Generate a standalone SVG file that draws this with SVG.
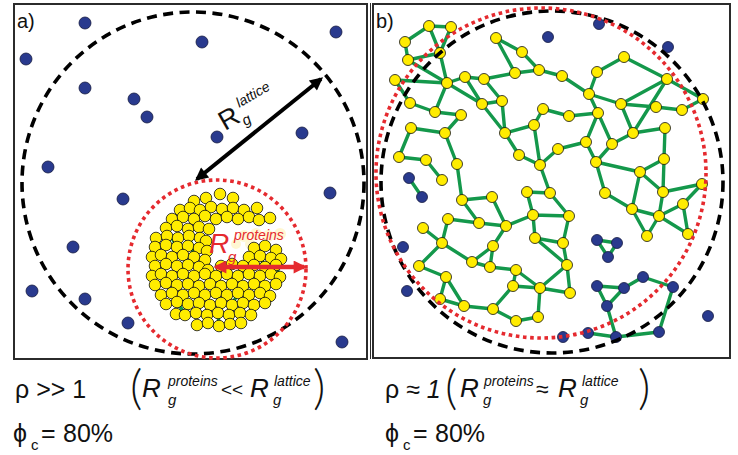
<svg xmlns="http://www.w3.org/2000/svg" width="738" height="455" viewBox="0 0 738 455">
<style>
.frame{fill:none;stroke:#2b2b2b;stroke-width:2}
.y{fill:#ffec00;stroke:#111;stroke-width:0.8}
.b{fill:#293a8e;stroke:#151a40;stroke-width:0.8}
.e{stroke:#14984b;stroke-width:3.4;stroke-linecap:round;fill:none}
.dash{fill:none;stroke:#000;stroke-width:3.6;stroke-dasharray:10 6.5}
.dot{fill:none;stroke:#e52a2f;stroke-width:3.6;stroke-dasharray:3.6 3.6}
.t{font-family:'Liberation Sans',Arial,sans-serif;fill:#111}
.i{font-style:italic}
.p{font-family:Lato,'Open Sans','Liberation Sans',sans-serif;font-weight:300;fill:#111}
.r{fill:#e52a2f}
</style>
<defs>
<marker id="ak" viewBox="0 0 10 10" refX="8" refY="5" markerWidth="15" markerHeight="13" markerUnits="userSpaceOnUse" orient="auto-start-reverse"><path d="M0,0 L10,5 L0,10 z" fill="#000"/></marker>
<marker id="ar" viewBox="0 0 10 10" refX="8" refY="5" markerWidth="14" markerHeight="13" markerUnits="userSpaceOnUse" orient="auto-start-reverse"><path d="M0,0 L10,5 L0,10 z" fill="#e52a2f"/></marker>
</defs>
<rect width="738" height="455" fill="#fff"/>

<!-- Panel a -->
<g id="panel-a">
<rect class="frame" x="14" y="4" width="353" height="355"/>
<text class="t" x="17" y="28" font-size="20">a)</text>
<g id="a-lattice-free">
<circle class="b" cx="85" cy="23" r="6"/>
<circle class="b" cx="202" cy="42" r="6"/>
<circle class="b" cx="336" cy="32" r="6"/>
<circle class="b" cx="26" cy="59" r="6"/>
<circle class="b" cx="85" cy="88" r="6"/>
<circle class="b" cx="134" cy="99" r="6"/>
<circle class="b" cx="147" cy="117" r="6"/>
<circle class="b" cx="217" cy="137" r="6"/>
<circle class="b" cx="302" cy="133" r="6"/>
<circle class="b" cx="48" cy="167" r="6"/>
<circle class="b" cx="330" cy="193" r="6"/>
<circle class="b" cx="123" cy="199" r="6"/>
<circle class="b" cx="73" cy="247" r="6"/>
<circle class="b" cx="32" cy="291" r="6"/>
<circle class="b" cx="85" cy="299" r="6"/>
<circle class="b" cx="128" cy="323" r="6"/>
<circle class="b" cx="342" cy="342" r="6"/>
</g>
<circle id="a-lattice-ring" class="dash" cx="193" cy="183" r="171"/>
<circle id="a-protein-ring" class="dot" cx="217" cy="269" r="89"/>
<g id="a-cluster-bonds">
<path class="e" d="M166,228L177,247 M177,247L188,246 M188,229L194,257 M161,255L166,264 M172,276L183,274 M155,285L166,283 M183,295L188,304 M199,286L205,295 M216,293L221,303 M232,305L238,293 M249,295L254,305 M265,286L270,296 M221,286L232,284 M243,266L249,274 M260,256L265,267 M194,219L200,210 M216,219L222,209 M238,219L244,210 M177,302L185,314 M207,314L210,305 M229,314L232,305 M219,326L218,312 M161,295L166,304 M152,257L155,266 M276,265L280,277 M183,255L188,265 M199,267L205,274"/>
</g>
<g id="a-cluster-ghost" fill="#fff6c8" opacity="0.8">
<circle cx="244" cy="236" r="6"/><circle cx="256" cy="234" r="6"/><circle cx="268" cy="236" r="6"/><circle cx="280" cy="234" r="6"/><circle cx="250" cy="244" r="5"/><circle cx="236" cy="244" r="5"/>
</g>
<g id="a-cluster">
<circle class="y" cx="194" cy="201" r="5.8"/><circle class="y" cx="206" cy="198" r="5.8"/><circle class="y" cx="220" cy="194" r="5.8"/><circle class="y" cx="233" cy="198" r="5.8"/>
<circle class="y" cx="180" cy="210" r="5.8"/><circle class="y" cx="190" cy="208" r="5.8"/><circle class="y" cx="200" cy="210" r="5.8"/><circle class="y" cx="211" cy="207" r="5.8"/><circle class="y" cx="222" cy="209" r="5.8"/><circle class="y" cx="233" cy="208" r="5.8"/><circle class="y" cx="244" cy="210" r="5.8"/><circle class="y" cx="257" cy="208" r="5.8"/>
<circle class="y" cx="172" cy="219" r="5.8"/><circle class="y" cx="183" cy="217" r="5.8"/><circle class="y" cx="194" cy="219" r="5.8"/><circle class="y" cx="205" cy="216" r="5.8"/><circle class="y" cx="216" cy="219" r="5.8"/><circle class="y" cx="227" cy="217" r="5.8"/><circle class="y" cx="238" cy="219" r="5.8"/><circle class="y" cx="249" cy="217" r="5.8"/><circle class="y" cx="259" cy="220" r="5.8"/><circle class="y" cx="270" cy="218" r="5.8"/>
<circle class="y" cx="166" cy="228" r="5.8"/><circle class="y" cx="177" cy="226" r="5.8"/><circle class="y" cx="188" cy="229" r="5.8"/><circle class="y" cx="199" cy="227" r="5.8"/><circle class="y" cx="209" cy="229" r="5.8"/>
<circle class="y" cx="156" cy="238" r="5.8"/><circle class="y" cx="167" cy="236" r="5.8"/><circle class="y" cx="178" cy="238" r="5.8"/><circle class="y" cx="189" cy="236" r="5.8"/><circle class="y" cx="200" cy="238" r="5.8"/><circle class="y" cx="206" cy="241" r="5.8"/>
<circle class="y" cx="155" cy="247" r="5.8"/><circle class="y" cx="166" cy="245" r="5.8"/><circle class="y" cx="177" cy="247" r="5.8"/><circle class="y" cx="188" cy="246" r="5.8"/><circle class="y" cx="199" cy="248" r="5.8"/><circle class="y" cx="207" cy="251" r="5.8"/>
<circle class="y" cx="254" cy="248" r="5.8"/><circle class="y" cx="265" cy="246" r="5.8"/><circle class="y" cx="276" cy="250" r="5.8"/>
<circle class="y" cx="152" cy="257" r="5.8"/><circle class="y" cx="161" cy="255" r="5.8"/><circle class="y" cx="172" cy="257" r="5.8"/><circle class="y" cx="183" cy="255" r="5.8"/><circle class="y" cx="194" cy="257" r="5.8"/><circle class="y" cx="205" cy="260" r="5.8"/>
<circle class="y" cx="249" cy="257" r="5.8"/><circle class="y" cx="260" cy="256" r="5.8"/><circle class="y" cx="271" cy="258" r="5.8"/><circle class="y" cx="281" cy="259" r="5.8"/>
<circle class="y" cx="155" cy="266" r="5.8"/><circle class="y" cx="166" cy="264" r="5.8"/><circle class="y" cx="177" cy="266" r="5.8"/><circle class="y" cx="188" cy="265" r="5.8"/><circle class="y" cx="199" cy="267" r="5.8"/><circle class="y" cx="208" cy="270" r="5.8"/><circle class="y" cx="221" cy="266" r="5.8"/><circle class="y" cx="232" cy="264" r="5.8"/><circle class="y" cx="243" cy="266" r="5.8"/><circle class="y" cx="254" cy="265" r="5.8"/><circle class="y" cx="265" cy="267" r="5.8"/><circle class="y" cx="276" cy="265" r="5.8"/>
<circle class="y" cx="152" cy="276" r="5.8"/><circle class="y" cx="161" cy="274" r="5.8"/><circle class="y" cx="172" cy="276" r="5.8"/><circle class="y" cx="183" cy="274" r="5.8"/><circle class="y" cx="194" cy="276" r="5.8"/><circle class="y" cx="205" cy="274" r="5.8"/><circle class="y" cx="216" cy="276" r="5.8"/><circle class="y" cx="227" cy="274" r="5.8"/><circle class="y" cx="238" cy="276" r="5.8"/><circle class="y" cx="249" cy="274" r="5.8"/><circle class="y" cx="260" cy="276" r="5.8"/><circle class="y" cx="271" cy="274" r="5.8"/><circle class="y" cx="280" cy="277" r="5.8"/>
<circle class="y" cx="155" cy="285" r="5.8"/><circle class="y" cx="166" cy="283" r="5.8"/><circle class="y" cx="177" cy="285" r="5.8"/><circle class="y" cx="188" cy="284" r="5.8"/><circle class="y" cx="199" cy="286" r="5.8"/><circle class="y" cx="210" cy="284" r="5.8"/><circle class="y" cx="221" cy="286" r="5.8"/><circle class="y" cx="232" cy="284" r="5.8"/><circle class="y" cx="243" cy="286" r="5.8"/><circle class="y" cx="254" cy="284" r="5.8"/><circle class="y" cx="265" cy="286" r="5.8"/><circle class="y" cx="276" cy="284" r="5.8"/>
<circle class="y" cx="161" cy="295" r="5.8"/><circle class="y" cx="172" cy="293" r="5.8"/><circle class="y" cx="183" cy="295" r="5.8"/><circle class="y" cx="194" cy="293" r="5.8"/><circle class="y" cx="205" cy="295" r="5.8"/><circle class="y" cx="216" cy="293" r="5.8"/><circle class="y" cx="227" cy="295" r="5.8"/><circle class="y" cx="238" cy="293" r="5.8"/><circle class="y" cx="249" cy="295" r="5.8"/><circle class="y" cx="260" cy="293" r="5.8"/><circle class="y" cx="270" cy="296" r="5.8"/>
<circle class="y" cx="166" cy="304" r="5.8"/><circle class="y" cx="177" cy="302" r="5.8"/><circle class="y" cx="188" cy="304" r="5.8"/><circle class="y" cx="199" cy="303" r="5.8"/><circle class="y" cx="210" cy="305" r="5.8"/><circle class="y" cx="221" cy="303" r="5.8"/><circle class="y" cx="232" cy="305" r="5.8"/><circle class="y" cx="243" cy="303" r="5.8"/><circle class="y" cx="254" cy="305" r="5.8"/><circle class="y" cx="265" cy="303" r="5.8"/>
<circle class="y" cx="176" cy="314" r="5.8"/><circle class="y" cx="185" cy="315" r="5.8"/><circle class="y" cx="196" cy="313" r="5.8"/><circle class="y" cx="207" cy="315" r="5.8"/><circle class="y" cx="218" cy="313" r="5.8"/><circle class="y" cx="229" cy="315" r="5.8"/><circle class="y" cx="240" cy="313" r="5.8"/><circle class="y" cx="251" cy="315" r="5.8"/>
<circle class="y" cx="197" cy="325" r="5.8"/><circle class="y" cx="208" cy="323" r="5.8"/><circle class="y" cx="219" cy="326" r="5.8"/><circle class="y" cx="230" cy="324" r="5.8"/><circle class="y" cx="241" cy="323" r="5.8"/>
</g>
<g id="a-arrows">
<line x1="197" y1="179" x2="321" y2="79" stroke="#000" stroke-width="4" marker-start="url(#ak)" marker-end="url(#ak)"/>
<line x1="216" y1="267" x2="304" y2="267" stroke="#e52a2f" stroke-width="4.5" marker-start="url(#ar)" marker-end="url(#ar)"/>
</g>
<g id="a-label-lattice" transform="translate(225,131) rotate(-30)">
<text class="t" x="0" y="0" font-size="27">R</text>
<text class="t i" x="20" y="6" font-size="15">g</text>
<text class="t i" x="24" y="-13" font-size="14">lattice</text>
</g>
<g id="a-label-proteins">
<text class="t i r" x="209" y="253" font-size="28">R</text>
<text class="t i r" x="228" y="262" font-size="15">g</text>
<text class="t i r" x="234" y="240" font-size="14">proteins</text>
</g>
</g>

<!-- Panel b -->
<g id="panel-b">
<rect class="frame" x="373" y="4" width="357" height="354"/>
<line x1="370.5" y1="3" x2="370.5" y2="359" stroke="#2b2b2b" stroke-width="1"/>
<text class="t" x="376" y="28" font-size="20">b)</text>
<g id="b-connectors">
<path class="e" d="M429,26L451,27 M429,26L405,42 M405,42L408,60 M451,27L440,53 M429,26L440,53 M408,60L440,53 M440,53L447,83 M408,60L447,83 M395,80L447,83 M395,80L410,103 M410,103L435,112 M435,112L447,83 M447,83L465,77 M465,77L484,79 M484,79L515,73 M447,83L482,104 M465,77L482,104 M435,112L461,115 M461,115L445,133 M482,104L502,101 M484,79L502,101 M482,104L505,133 M502,101L505,133 M505,133L534,125 M505,133L519,155 M534,125L540,165 M519,155L540,165 M496,38L522,52 M496,38L515,73 M522,52L539,70 M515,73L539,70 M539,70L562,76 M411,128L445,133 M411,128L399,157 M399,157L426,160 M426,160L442,180 M445,133L457,164 M457,164L462,200 M543,109L534,125 M543,109L569,116 M569,116L598,113 M562,76L589,94 M597,72L589,94 M597,72L624,57 M624,57L667,79 M667,79L703,99 M589,94L598,113 M589,94L621,104 M598,113L586,142 M598,113L612,144 M621,104L656,107 M656,107L682,110 M682,110L703,99 M667,79L621,104 M667,79L633,133 M621,104L633,133 M633,133L665,128 M612,144L633,133 M586,142L558,149 M586,142L596,162 M612,144L596,162 M596,162L640,172 M665,128L664,159 M640,172L664,159 M558,149L540,165 M596,162L605,193 M540,165L550,193 M527,192L550,193 M527,192L533,215 M550,193L569,216 M533,215L569,216 M533,215L535,238 M569,216L563,243 M535,238L563,243 M535,238L567,265 M563,243L567,265 M567,265L570,293 M567,265L540,288 M540,288L570,293 M540,288L538,317 M540,288L513,286 M513,286L516,270 M490,267L516,270 M516,270L540,288 M516,321L538,317 M493,309L513,286 M493,309L464,306 M493,309L516,321 M464,306L440,299 M464,306L446,277 M446,277L440,299 M446,277L419,266 M419,266L442,243 M423,228L442,243 M442,243L448,219 M442,243L472,262 M472,262L490,267 M472,262L493,246 M493,246L490,267 M493,246L506,226 M479,223L506,226 M448,219L479,223 M462,200L479,223 M462,200L492,197 M492,197L506,226 M506,226L533,215 M640,172L632,209 M640,172L663,192 M664,159L663,192 M663,192L702,184 M663,192L659,216 M632,209L659,216 M632,209L647,236 M659,216L647,236 M659,216L683,204 M683,204L702,184 M683,204L688,234 M659,216L688,234 M605,193L632,209"/>
<path class="e" d="M409,178L422,197 M597,240L617,243 M617,243L608,257 M597,240L608,257 M597,286L624,288 M624,288L643,277 M643,277L673,287 M597,286L607,306 M624,288L607,306 M607,306L616,337 M616,337L659,332 M659,332L673,287 M588,333L616,337"/>
</g>
<g id="b-nodes-lattice">
<circle class="b" cx="548" cy="37" r="5.5"/><circle class="b" cx="599" cy="24" r="5.5"/><circle class="b" cx="668" cy="47" r="5.5"/>
<circle class="b" cx="409" cy="178" r="5.5"/><circle class="b" cx="422" cy="197" r="5.5"/><circle class="b" cx="403" cy="247" r="5.5"/><circle class="b" cx="407" cy="291" r="5.5"/>
<circle class="b" cx="597" cy="240" r="5.5"/><circle class="b" cx="617" cy="243" r="5.5"/><circle class="b" cx="608" cy="257" r="5.5"/>
<circle class="b" cx="597" cy="286" r="5.5"/><circle class="b" cx="624" cy="288" r="5.5"/><circle class="b" cx="643" cy="277" r="5.5"/><circle class="b" cx="673" cy="287" r="5.5"/><circle class="b" cx="607" cy="306" r="5.5"/>
<circle class="b" cx="708" cy="316" r="5.5"/><circle class="b" cx="563" cy="337" r="5.5"/><circle class="b" cx="588" cy="333" r="5.5"/><circle class="b" cx="616" cy="337" r="5.5"/><circle class="b" cx="659" cy="332" r="5.5"/>
</g>
<g id="b-nodes-proteins">
<circle class="y" cx="429" cy="26" r="5.5"/><circle class="y" cx="451" cy="27" r="5.5"/><circle class="y" cx="405" cy="42" r="5.5"/><circle class="y" cx="440" cy="53" r="5.5"/><circle class="y" cx="408" cy="60" r="5.5"/><circle class="y" cx="496" cy="38" r="5.5"/><circle class="y" cx="522" cy="52" r="5.5"/><circle class="y" cx="515" cy="73" r="5.5"/><circle class="y" cx="539" cy="70" r="5.5"/><circle class="y" cx="562" cy="76" r="5.5"/>
<circle class="y" cx="597" cy="72" r="5.5"/><circle class="y" cx="624" cy="57" r="5.5"/><circle class="y" cx="667" cy="79" r="5.5"/><circle class="y" cx="703" cy="99" r="5.5"/><circle class="y" cx="395" cy="80" r="5.5"/><circle class="y" cx="447" cy="83" r="5.5"/><circle class="y" cx="465" cy="77" r="5.5"/><circle class="y" cx="484" cy="79" r="5.5"/><circle class="y" cx="410" cy="103" r="5.5"/><circle class="y" cx="435" cy="112" r="5.5"/>
<circle class="y" cx="461" cy="115" r="5.5"/><circle class="y" cx="482" cy="104" r="5.5"/><circle class="y" cx="502" cy="101" r="5.5"/><circle class="y" cx="543" cy="109" r="5.5"/><circle class="y" cx="569" cy="116" r="5.5"/><circle class="y" cx="589" cy="94" r="5.5"/><circle class="y" cx="598" cy="113" r="5.5"/><circle class="y" cx="621" cy="104" r="5.5"/><circle class="y" cx="656" cy="107" r="5.5"/><circle class="y" cx="682" cy="110" r="5.5"/>
<circle class="y" cx="411" cy="128" r="5.5"/><circle class="y" cx="445" cy="133" r="5.5"/><circle class="y" cx="505" cy="133" r="5.5"/><circle class="y" cx="534" cy="125" r="5.5"/><circle class="y" cx="633" cy="133" r="5.5"/><circle class="y" cx="665" cy="128" r="5.5"/><circle class="y" cx="399" cy="157" r="5.5"/><circle class="y" cx="426" cy="160" r="5.5"/><circle class="y" cx="457" cy="164" r="5.5"/><circle class="y" cx="519" cy="155" r="5.5"/>
<circle class="y" cx="540" cy="165" r="5.5"/><circle class="y" cx="558" cy="149" r="5.5"/><circle class="y" cx="586" cy="142" r="5.5"/><circle class="y" cx="612" cy="144" r="5.5"/><circle class="y" cx="596" cy="162" r="5.5"/><circle class="y" cx="664" cy="159" r="5.5"/><circle class="y" cx="442" cy="180" r="5.5"/><circle class="y" cx="640" cy="172" r="5.5"/><circle class="y" cx="702" cy="184" r="5.5"/><circle class="y" cx="462" cy="200" r="5.5"/>
<circle class="y" cx="492" cy="197" r="5.5"/><circle class="y" cx="527" cy="192" r="5.5"/><circle class="y" cx="550" cy="193" r="5.5"/><circle class="y" cx="605" cy="193" r="5.5"/><circle class="y" cx="663" cy="192" r="5.5"/><circle class="y" cx="683" cy="204" r="5.5"/><circle class="y" cx="632" cy="209" r="5.5"/><circle class="y" cx="659" cy="216" r="5.5"/><circle class="y" cx="533" cy="215" r="5.5"/><circle class="y" cx="569" cy="216" r="5.5"/>
<circle class="y" cx="448" cy="219" r="5.5"/><circle class="y" cx="479" cy="223" r="5.5"/><circle class="y" cx="506" cy="226" r="5.5"/><circle class="y" cx="423" cy="228" r="5.5"/><circle class="y" cx="647" cy="236" r="5.5"/><circle class="y" cx="688" cy="234" r="5.5"/><circle class="y" cx="442" cy="243" r="5.5"/><circle class="y" cx="535" cy="238" r="5.5"/><circle class="y" cx="563" cy="243" r="5.5"/><circle class="y" cx="493" cy="246" r="5.5"/>
<circle class="y" cx="472" cy="262" r="5.5"/><circle class="y" cx="490" cy="267" r="5.5"/><circle class="y" cx="419" cy="266" r="5.5"/><circle class="y" cx="567" cy="265" r="5.5"/><circle class="y" cx="516" cy="270" r="5.5"/><circle class="y" cx="446" cy="277" r="5.5"/><circle class="y" cx="513" cy="286" r="5.5"/><circle class="y" cx="540" cy="288" r="5.5"/><circle class="y" cx="570" cy="293" r="5.5"/><circle class="y" cx="440" cy="299" r="5.5"/>
<circle class="y" cx="464" cy="306" r="5.5"/><circle class="y" cx="493" cy="309" r="5.5"/><circle class="y" cx="516" cy="321" r="5.5"/><circle class="y" cx="538" cy="317" r="5.5"/>
</g>
<circle id="b-lattice-ring" class="dash" cx="552" cy="182" r="171"/>
<circle id="b-protein-ring" class="dot" cx="541" cy="173" r="165"/>
</g>

<!-- Captions -->
<g id="caption-a">
<text class="t" x="15" y="398" font-size="25">ρ &gt;&gt; 1</text>
<text class="p" x="130" y="404" font-size="48">(</text>
<text class="t i" x="142" y="397" font-size="26">R</text>
<text class="t i" x="168" y="404.5" font-size="15">g</text>
<text class="t i" x="168" y="386" font-size="14">proteins</text>
<text class="t" x="221" y="396" font-size="19">&lt;&lt;</text>
<text class="t i" x="250" y="397" font-size="26">R</text>
<text class="t i" x="273" y="404.5" font-size="15">g</text>
<text class="t i" x="274" y="386" font-size="14">lattice</text>
<text class="p" x="313" y="404" font-size="48">)</text>
<text class="t" x="13" y="442" font-size="25">ϕ</text>
<text class="t" x="31" y="450" font-size="15">c</text>
<text class="t" x="41" y="442" font-size="25">=</text>
<text class="t" x="63" y="442" font-size="25">80%</text>
</g>
<g id="caption-b">
<text class="t" x="385" y="398" font-size="25">ρ ≈ <tspan class="i">1</tspan></text>
<text class="p" x="445" y="404" font-size="48">(</text>
<text class="t i" x="460" y="397" font-size="26">R</text>
<text class="t i" x="483" y="404.5" font-size="15">g</text>
<text class="t i" x="484" y="386" font-size="14">proteins</text>
<text class="t" x="536" y="397" font-size="23">≈</text>
<text class="t i" x="558" y="397" font-size="26">R</text>
<text class="t i" x="580" y="404.5" font-size="15">g</text>
<text class="t i" x="582" y="386" font-size="14">lattice</text>
<text class="p" x="638" y="404" font-size="48">)</text>
<text class="t" x="385" y="442" font-size="25">ϕ</text>
<text class="t" x="403" y="450" font-size="15">c</text>
<text class="t" x="413" y="442" font-size="25">=</text>
<text class="t" x="435" y="442" font-size="25">80%</text>
</g>
</svg>
